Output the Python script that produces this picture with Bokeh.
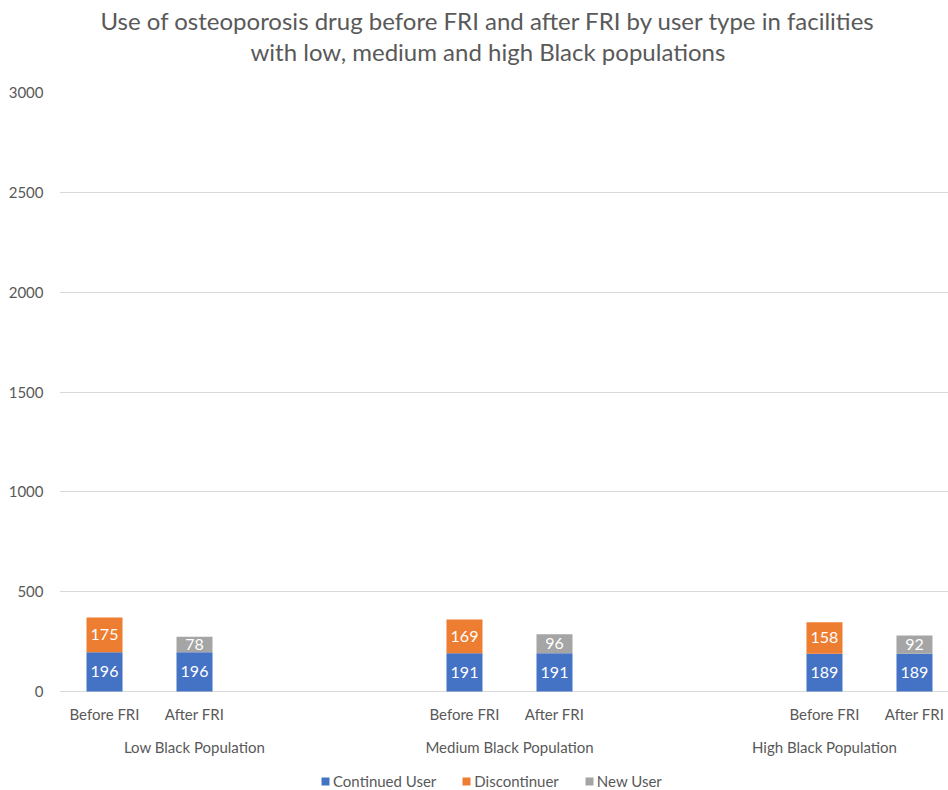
from bokeh.plotting import figure
from bokeh.models import (Range1d, FixedTicker, Title, Legend, LegendItem,
                          ColumnDataSource)
from bokeh.embed import file_html
from bokeh.resources import INLINE
from bokeh.core.properties import value

# ---- data ----
title_lines = ["Use of osteoporosis drug before FRI and after FRI by user type in facilities",
               "with low, medium and high Black populations"]
slot_labels = ["Before FRI", "After FRI", "", "", "Before FRI", "After FRI", "", "",
               "Before FRI", "After FRI"]
groups = ["Low Black Population", "Medium Black Population", "High Black Population"]
group_first_slot = [0, 3, 7]
group_last_slot = [2, 6, 9]
series = ["Continued User", "Discontinuer", "New User"]
continued = [196, 196, 191, 191, 189, 189]
discontinuer = [175, 0, 169, 0, 158, 0]
new_user = [0, 78, 0, 96, 0, 92]
colors = ["#4472C4", "#ED7D31", "#A5A5A5"]
y_ticks = [0, 500, 1000, 1500, 2000, 2500, 3000]

FONT = "Lato"
TXT = "#595959"

W, H = 948, 790
TOP, LEFT = 92, 59
ZERO_PX = 691          # pixel row of the value 0
Y_MAX = 3000
UNITS_PER_PX = Y_MAX / (ZERO_PX - TOP)
y_min = -(H - ZERO_PX) * UNITS_PER_PX

bar_x = [i for i, l in enumerate(slot_labels) if l]
group_centers = [(a + b) / 2 for a, b in zip(group_first_slot, group_last_slot)]

p = figure(width=W, height=H, output_backend="svg", toolbar_location=None,
           x_range=Range1d(-0.5, 9.378), y_range=Range1d(y_min, Y_MAX),
           x_axis_location=None,
           min_border_left=LEFT, min_border_right=0, min_border_top=TOP,
           min_border_bottom=0)
p.outline_line_color = None
p.background_fill_color = "white"
p.border_fill_color = "white"
p.xgrid.grid_line_color = None
p.ygrid.grid_line_color = "#D9D9D9"
p.ygrid.ticker = FixedTicker(ticks=y_ticks)

# y axis
ya = p.yaxis[0]
ya.ticker = FixedTicker(ticks=y_ticks)
ya.axis_line_color = None
ya.major_tick_line_color = None
ya.minor_tick_line_color = None
ya.major_tick_out = 0
ya.major_label_text_font = FONT
ya.major_label_text_font_size = "15px"
ya.major_label_text_color = TXT
ya.major_label_standoff = 16

# stacked bars
src = ColumnDataSource(dict(x=bar_x, c=continued, d=discontinuer, n=new_user))
rends = p.vbar_stack(["c", "d", "n"], x="x", width=0.4, source=src,
                     color=colors, line_color=None)

# data labels
lx, ly, lt = [], [], []
for i, x in enumerate(bar_x):
    base = 0
    for vals in (continued, discontinuer, new_user):
        v = vals[i]
        if v:
            lx.append(x)
            ly.append(base + v / 2)
            lt.append(str(v))
        base += v
p.text(x=lx, y=ly, text=lt, text_color="white", text_align="center",
       text_baseline="middle", text_font=value(FONT), text_font_size="16px")

# category labels (two levels) under the zero line
sub_y = -22 * UNITS_PER_PX
grp_y = -55 * UNITS_PER_PX
p.text(x=bar_x, y=[sub_y] * len(bar_x), text=[slot_labels[x] for x in bar_x],
       text_color=TXT, text_align="center", text_baseline="middle",
       text_font=value(FONT), text_font_size="15px")
p.text(x=group_centers, y=[grp_y] * len(groups), text=groups,
       text_color=TXT, text_align="center", text_baseline="middle",
       text_font=value(FONT), text_font_size="15px")

legend = Legend(items=[LegendItem(label=s, renderers=[r]) for s, r in zip(series, rends)],
                orientation="horizontal", location=(261, 0),
                border_line_color=None, background_fill_alpha=0,
                label_text_font=FONT, label_text_font_size="15px",
                label_text_color=TXT, glyph_width=10, glyph_height=10,
                spacing=25, label_standoff=3, padding=0, margin=0)
p.add_layout(legend, "center")

# titles (spacer nearest the plot, then the two lines)
spacer = Title(text=" ", text_font=FONT, text_font_size="21px", standoff=0)
t2 = Title(text=title_lines[1], align="left", text_font=FONT, text_font_size="24px",
           text_font_style="normal", text_color=TXT, offset=191, standoff=0)
t1 = Title(text=title_lines[0], align="left", text_font=FONT, text_font_size="24px",
           text_font_style="normal", text_color=TXT, offset=41, standoff=0)
p.add_layout(spacer, "above")
p.add_layout(t2, "above")
p.add_layout(t1, "above")

open("out.html", "w").write(file_html(p, INLINE))
